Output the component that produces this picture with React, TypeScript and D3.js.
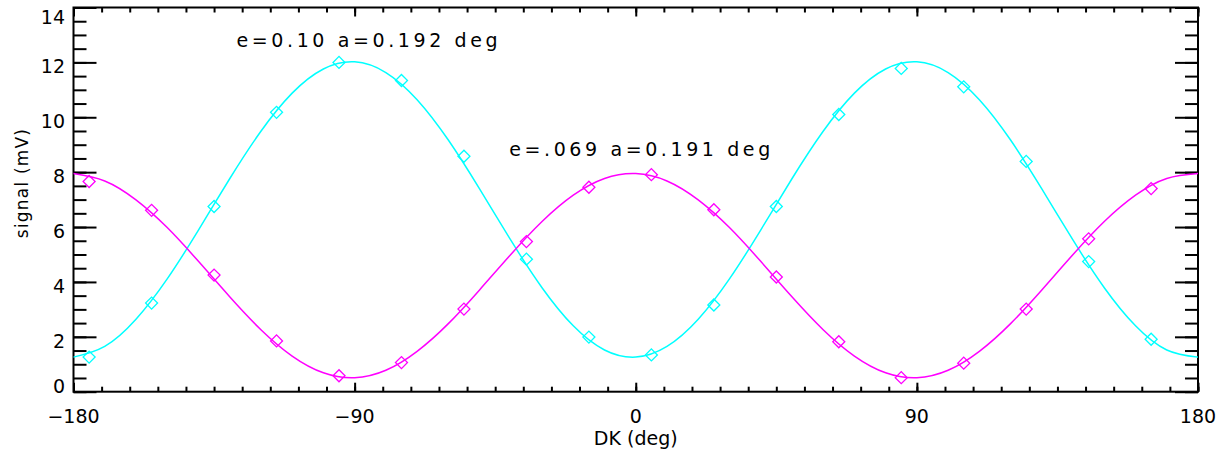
import React, { useEffect, useRef } from 'react';
import * as d3 from 'd3';

// measured points (diamonds)
const dkPoints = [-175, -155, -135, -115, -95, -75, -55, -35, -15, 5, 25, 45, 65, 85, 105, 125, 145, 165];
const cyanPoints = [1.26, 3.23, 6.75, 10.18, 12.0, 11.34, 8.58, 4.83, 1.99, 1.34, 3.16, 6.75, 10.1, 11.78, 11.11, 8.39, 4.74, 1.91];
const magentaPoints = [7.66, 6.61, 4.25, 1.85, 0.58, 1.06, 3.01, 5.47, 7.45, 7.91, 6.63, 4.18, 1.82, 0.51, 1.04, 3.01, 5.57, 7.4];

// fitted curves, read every 10 deg
const dkFit = [
  -180, -170, -160, -150, -140, -130, -120, -110, -100, -90, -80, -70, -60, -50, -40, -30, -20, -10, 0,
  10, 20, 30, 40, 50, 60, 70, 80, 90, 100, 110, 120, 130, 140, 150, 160, 170, 180,
];
const cyanFit = [
  1.26, 1.65, 2.64, 4.11, 5.89, 7.76, 9.49, 10.88, 11.76, 12.02, 11.63, 10.64, 9.17, 7.39, 5.52, 3.79, 2.4, 1.52, 1.26,
  1.65, 2.64, 4.11, 5.89, 7.76, 9.49, 10.88, 11.76, 12.02, 11.63, 10.64, 9.17, 7.39, 5.52, 3.79, 2.4, 1.52, 1.26,
];
const magentaFit = [
  7.95, 7.68, 6.99, 5.98, 4.75, 3.46, 2.26, 1.3, 0.69, 0.51, 0.78, 1.47, 2.48, 3.71, 5.0, 6.2, 7.16, 7.77, 7.95,
  7.68, 6.99, 5.98, 4.75, 3.46, 2.26, 1.3, 0.69, 0.51, 0.78, 1.47, 2.48, 3.71, 5.0, 6.2, 7.16, 7.77, 7.95,
];

const xMajor = [-180, -90, 0, 90, 180];
const yMajor = [0, 2, 4, 6, 8, 10, 12, 14];
const notes = ['e=0.10 a=0.192 deg', 'e=.069 a=0.191 deg'];
const noteDk = [-127.8, -40.5];
const noteVal = [12.57, 8.58];

const W = 1225;
const H = 457;
const left = 73.5;
const right = 1198;
const top = 7.5;
const bottom = 391.7;
const font = 'DejaVu Sans';

const App = () => {
  const ref = useRef(null);

  useEffect(() => {
    const svg = d3.select(ref.current);
    svg.selectAll('*').remove();

    const x = d3.scaleLinear().domain([-180, 180]).range([left, right]);
    const y = d3.scaleLinear().domain([0, 14]).range([bottom, top]);
    const xMinor = d3.range(-180, 181, 9);
    const yMinor = d3.range(0, 14.01, 0.5);

    const ticks = (axis, vals, size, tf) => {
      const g = svg.append('g').attr('transform', tf);
      g.call(axis.tickValues(vals).tickSize(size).tickFormat(() => ''));
      g.select('.domain').remove();
      g.selectAll('line').attr('stroke', '#000').attr('stroke-width', 2);
    };
    ticks(d3.axisBottom(x), xMinor, -5, `translate(0,${bottom})`);
    ticks(d3.axisBottom(x), xMajor, -9, `translate(0,${bottom})`);
    ticks(d3.axisTop(x), xMinor, -5, `translate(0,${top})`);
    ticks(d3.axisTop(x), xMajor, -9, `translate(0,${top})`);
    ticks(d3.axisLeft(y), yMinor, -13, `translate(${left},0)`);
    ticks(d3.axisLeft(y), yMajor, -23, `translate(${left},0)`);
    ticks(d3.axisRight(y), yMinor, -13, `translate(${right},0)`);
    ticks(d3.axisRight(y), yMajor, -23, `translate(${right},0)`);

    svg
      .append('rect')
      .attr('x', left)
      .attr('y', top)
      .attr('width', right - left)
      .attr('height', bottom - top)
      .attr('fill', 'none')
      .attr('stroke', '#000')
      .attr('stroke-width', 2);

    // tick labels
    const fmt = d3.format('d');
    svg
      .selectAll('text.xl')
      .data(xMajor)
      .enter()
      .append('text')
      .attr('class', 'xl')
      .attr('x', d => x(d))
      .attr('y', bottom + 31)
      .attr('text-anchor', 'middle')
      .text(d => fmt(d));
    svg
      .selectAll('text.yl')
      .data(yMajor)
      .enter()
      .append('text')
      .attr('class', 'yl')
      .attr('x', left - 8.5)
      .attr('y', d => Math.min(Math.max(y(d) + 11, top + 16), bottom + 1))
      .attr('text-anchor', 'end')
      .text(d => fmt(d));

    svg
      .append('text')
      .attr('x', (left + right) / 2)
      .attr('y', 445)
      .attr('text-anchor', 'middle')
      .text('DK (deg)');
    svg
      .append('text')
      .attr('transform', 'translate(28,183) rotate(-90)')
      .attr('text-anchor', 'middle')
      .attr('font-size', 17)
      .attr('letter-spacing', 1.2)
      .text('signal (mV)');

    const line = d3
      .line()
      .x(d => x(d[0]))
      .y(d => y(d[1]))
      .curve(d3.curveNatural);

    const series = [
      { fit: cyanFit, pts: cyanPoints, color: '#00FFFF' },
      { fit: magentaFit, pts: magentaPoints, color: '#FF00FF' },
    ];
    const diamond = d3.symbol().type(d3.symbolSquare).size(72);

    series.forEach(s => {
      svg
        .append('path')
        .attr('d', line(dkFit.map((d, i) => [d, s.fit[i]])))
        .attr('fill', 'none')
        .attr('stroke', s.color)
        .attr('stroke-width', 1.5);
      svg
        .selectAll(null)
        .data(dkPoints.map((d, i) => [d, s.pts[i]]))
        .enter()
        .append('path')
        .attr('d', diamond())
        .attr('transform', d => `translate(${x(d[0])},${y(d[1])}) rotate(45)`)
        .attr('fill', 'none')
        .attr('stroke', s.color)
        .attr('stroke-width', 1.3);
    });

    svg
      .selectAll('text.note')
      .data(notes)
      .enter()
      .append('text')
      .attr('class', 'note')
      .attr('x', (d, i) => x(noteDk[i]))
      .attr('y', (d, i) => y(noteVal[i]))
      .attr('letter-spacing', 3.6)
      .text(d => d);
  }, []);

  return (
    <div style={{ position: 'absolute', left: 0, top: 0 }}>
      <svg
        ref={ref}
        width={W}
        height={H}
        fontFamily={font}
        fontSize={19}
        style={{ display: 'block', background: '#fff' }}
      />
    </div>
  );
};

export default App;
